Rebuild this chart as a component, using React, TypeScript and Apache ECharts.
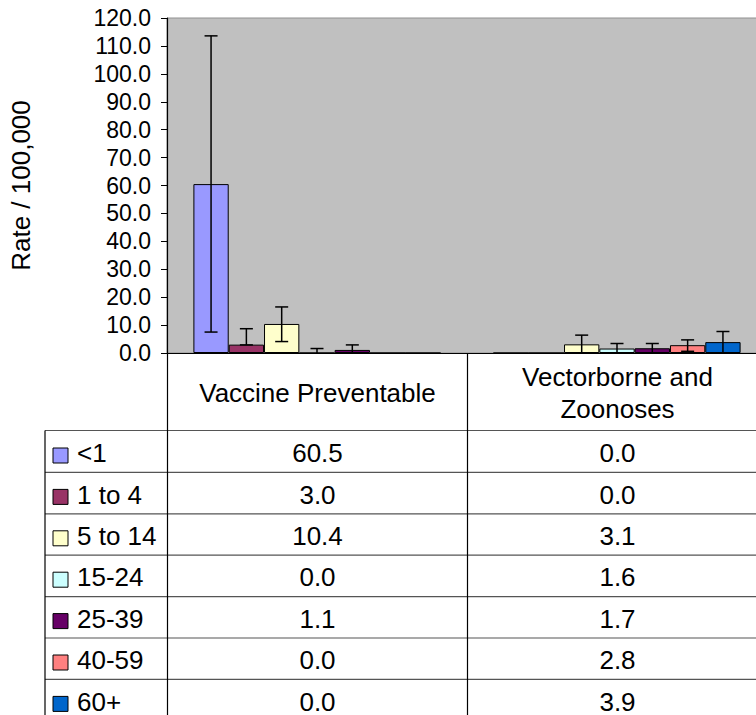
import React, { useEffect, useRef } from "react";
import * as echarts from "echarts";

const categories = ["Vaccine Preventable", "Vectorborne and\nZoonoses"];
const ageGroups = ["<1", "1 to 4", "5 to 14", "15-24", "25-39", "40-59", "60+"];
const ageColors = ["#9999FF", "#993366", "#FFFFCC", "#CCFFFF", "#660066", "#FF8080", "#0066CC"];
const vaccineRates = [60.5, 3.0, 10.4, 0.0, 1.1, 0.0, 0.0];
const vectorRates = [0.0, 0.0, 3.1, 1.6, 1.7, 2.8, 3.9];
const vaccineUpper: (number | null)[] = [113.6, 8.7, 16.5, 1.6, 2.9, null, null];
const vaccineLower: (number | null)[] = [7.5, 2.9, 4.1, 0, 0, null, null];
const vectorUpper: (number | null)[] = [null, null, 6.4, 3.4, 3.4, 4.7, 7.7];
const vectorLower: (number | null)[] = [null, null, 0, 0, 0, 0.6, 0];
const yMin = 0;
const yMax = 120;
const yStep = 10;
const yTitle = "Rate / 100,000";

const FONT = "'Liberation Sans', Arial, sans-serif";
const GAP = 0.176;

export default function App() {
  const ref = useRef<HTMLDivElement>(null);
  useEffect(() => {
    if (!ref.current) return;
    const chart = echarts.init(ref.current, null, { renderer: "svg" });

    const rates = [vaccineRates, vectorRates];
    const uppers = [vaccineUpper, vectorUpper];
    const lowers = [vaccineLower, vectorLower];

    const barSeries = ageGroups.map((name, g) => ({
      name,
      type: "bar",
      data: [vaccineRates[g], vectorRates[g]],
      barGap: "0%",
      barCategoryGap: (GAP * 100).toFixed(1) + "%",
      itemStyle: { color: ageColors[g], borderColor: "#000", borderWidth: 1 },
      z: 2,
    }));

    const errData: number[][] = [];
    for (let c = 0; c < 2; c++) {
      for (let g = 0; g < ageGroups.length; g++) {
        const hi = uppers[c][g];
        const lo = lowers[c][g];
        if (hi !== null && lo !== null) errData.push([c, g, lo, hi]);
      }
    }

    const errSeries = {
      type: "custom",
      z: 5,
      encode: { x: 0, y: 3 },
      data: errData,
      renderItem: (params: any, api: any) => {
        const c = api.value(0);
        const g = api.value(1);
        const lo = api.value(2);
        const hi = api.value(3);
        const base = api.coord([c, 0]);
        const band = api.size([1, 0])[0];
        const barW = (band * (1 - GAP)) / ageGroups.length;
        const x = base[0] - band / 2 + (band * GAP) / 2 + (g + 0.5) * barW;
        const yHi = api.coord([c, hi])[1];
        const yLo = api.coord([c, lo])[1];
        const st = { stroke: "#000", lineWidth: 1.5 };
        const children: any[] = [
          { type: "line", shape: { x1: x, y1: yHi, x2: x, y2: yLo }, style: st },
          { type: "line", shape: { x1: x - 6.5, y1: yHi, x2: x + 6.5, y2: yHi }, style: st },
        ];
        if (lo > 0) {
          children.push({ type: "line", shape: { x1: x - 6.5, y1: yLo, x2: x + 6.5, y2: yLo }, style: st });
        }
        return { type: "group", children };
      },
    };

    // data table
    const tableTop = 353.5;
    const headerBottom = 430.5;
    const rowH = 41.4;
    const rowStart = 431;
    const tableLeft = 45;
    const col1 = 167.5;
    const col2 = 467.5;
    const colW = 300;
    const tableBottom = 760;
    const hLine = { stroke: "#555", lineWidth: 1.2 };
    const vLine = { stroke: "#000", lineWidth: 1.2 };
    const graphics: any[] = [];
    graphics.push({ type: "line", shape: { x1: tableLeft, y1: headerBottom, x2: 800, y2: headerBottom }, style: hLine });
    for (let i = 1; i < ageGroups.length; i++) {
      const y = rowStart + i * rowH;
      graphics.push({ type: "line", shape: { x1: tableLeft, y1: y, x2: 800, y2: y }, style: hLine });
    }
    graphics.push({ type: "line", shape: { x1: tableLeft, y1: headerBottom, x2: tableLeft, y2: tableBottom }, style: vLine });
    graphics.push({ type: "line", shape: { x1: col1, y1: tableTop, x2: col1, y2: tableBottom }, style: vLine });
    graphics.push({ type: "line", shape: { x1: col2, y1: tableTop, x2: col2, y2: tableBottom }, style: vLine });
    categories.forEach((cat, c) => {
      graphics.push({
        type: "text",
        x: col1 + colW * c + colW / 2,
        y: (tableTop + headerBottom) / 2 + 1,
        style: {
          text: cat,
          fontSize: 26,
          fontFamily: FONT,
          fill: "#000",
          align: "center",
          verticalAlign: "middle",
          lineHeight: 32,
        },
      });
    });
    ageGroups.forEach((name, g) => {
      const top = rowStart + g * rowH;
      const mid = top + rowH / 2 + 1.5;
      graphics.push({
        type: "rect",
        shape: { x: 53, y: top + 17, width: 15, height: 15 },
        style: { fill: ageColors[g], stroke: "#000", lineWidth: 1 },
      });
      graphics.push({
        type: "text",
        x: 77,
        y: mid,
        style: {
          text: name,
          fontSize: 26,
          lineHeight: 22,
          fontFamily: FONT,
          fill: "#000",
          align: "left",
          verticalAlign: "middle",
        },
      });
      for (let c = 0; c < 2; c++) {
        graphics.push({
          type: "text",
          x: col1 + colW * c + colW / 2,
          y: mid,
          style: {
            text: rates[c][g].toFixed(1),
            fontSize: 26,
            lineHeight: 22,
            fontFamily: FONT,
            fill: "#000",
            align: "center",
            verticalAlign: "middle",
          },
        });
      }
    });

    chart.setOption({
      animation: false,
      backgroundColor: "#fff",
      textStyle: { fontFamily: FONT },
      grid: {
        left: 167,
        top: 18,
        width: 600,
        height: 335,
        show: true,
        containLabel: false,
        outerBoundsMode: "none",
        backgroundColor: "#C0C0C0",
        borderColor: "#909090",
        borderWidth: 1,
      },
      xAxis: {
        type: "category",
        data: categories,
        axisLabel: { show: false },
        axisTick: { show: false },
        axisLine: { show: true, lineStyle: { color: "#000", width: 1.2 } },
      },
      yAxis: {
        type: "value",
        min: yMin,
        max: yMax,
        interval: yStep,
        name: yTitle,
        nameLocation: "middle",
        nameRotate: 90,
        nameGap: 133,
        nameTextStyle: { fontSize: 26, fontFamily: FONT, color: "#000" },
        axisLine: { show: true, lineStyle: { color: "#000", width: 1.2 } },
        axisTick: { show: true, length: 6, lineStyle: { color: "#000" } },
        axisLabel: {
          fontSize: 23,
          fontFamily: FONT,
          color: "#000",
          margin: 16,
          formatter: (v: number) => v.toFixed(1),
        },
        splitLine: { show: false },
      },
      series: [...barSeries, errSeries],
      graphic: graphics,
    });

    return () => chart.dispose();
  }, []);

  return (
    <div
      ref={ref}
      style={{ position: "fixed", left: 0, top: 0, width: 756, height: 715 }}
    />
  );
}
